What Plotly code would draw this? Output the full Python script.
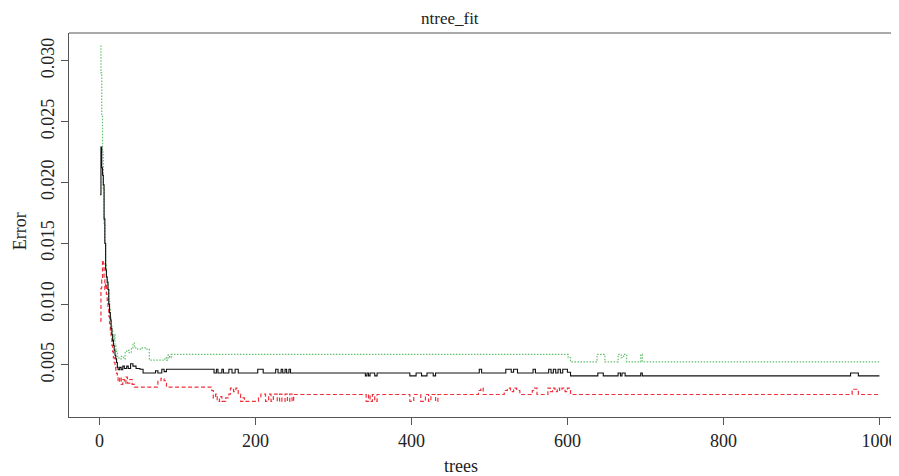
import plotly.graph_objects as go

# ---- data: change points (tree, error) ----
oob_trees = [1,2,3,4,5,6,7,8,9,10,11,12,13,14,15,16,17,18,19,20,21,22,23,24,26,28,30,32,35,37,40,43,47,52,56,72,75,80,83,86,
             147,150,152,157,159,166,170,174,178,203,210,226,229,233,235,238,240,243,245,
             341,343,345,347,353,356,398,406,413,420,428,431,487,490,521,528,531,536,556,559,
             576,579,582,585,588,591,594,600,604,639,646,665,668,670,674,694,696,963,973,1000]
oob_err = [0.0190,0.0229,0.0212,0.0206,0.0198,0.0170,0.0150,0.0128,0.0122,0.0118,0.0112,0.0100,0.0093,0.0087,0.0080,
           0.0075,0.0070,0.0066,0.0062,0.0058,0.0055,0.0052,0.0048,0.0046,0.0048,0.0046,0.0049,0.0047,0.0049,0.0047,
           0.0051,0.0049,0.0047,0.00465,0.00434,0.00452,0.00434,0.00465,0.00445,0.00465,
           0.00434,0.00465,0.00434,0.00465,0.00434,0.00465,0.00434,0.00465,0.00434,0.00465,0.00434,0.00465,0.00434,
           0.00465,0.00434,0.00465,0.00434,0.00465,0.00434,
           0.0041,0.00434,0.0041,0.00434,0.0041,0.00434,0.0041,0.00434,0.0041,0.00434,0.0041,0.00434,0.00465,0.00434,
           0.00465,0.0044,0.00465,0.00434,0.00465,0.00434,
           0.00465,0.00434,0.00465,0.00434,0.00465,0.00434,0.00465,0.0044,0.0041,0.00434,0.0041,0.00434,0.0041,
           0.00434,0.0041,0.00434,0.0041,0.00434,0.0041,0.0041]

red_trees = [1,2,3,4,5,6,7,8,9,10,11,12,13,14,15,16,17,18,19,20,21,22,23,24,26,28,30,32,34,36,39,42,45,75,79,83,86,
             144,146,149,151,154,157,162,166,168,172,175,178,181,184,186,204,207,213,217,220,223,228,231,234,238,241,244,247,249,
             342,345,347,350,353,356,398,403,412,418,422,425,431,434,486,489,492,519,523,527,531,535,539,555,558,561,
             575,578,581,584,587,590,593,597,600,604,965,973,1000]
red_err = [0.0086,0.0113,0.0120,0.0136,0.0133,0.0120,0.0112,0.0117,0.0108,0.0103,0.0097,0.0090,0.0084,0.0078,0.0072,
           0.0066,0.0061,0.0056,0.0052,0.0048,0.0045,0.0043,0.0040,0.0036,0.0040,0.0034,0.0038,0.0035,0.0040,0.0035,
           0.0038,0.0034,0.00317,0.0037,0.0039,0.0037,0.00317,
           0.0029,0.0023,0.0026,0.0020,0.0024,0.0020,0.0023,0.0026,0.0031,0.0028,0.0031,0.0026,0.0020,0.0023,0.0020,
           0.0023,0.0026,0.0020,0.0026,0.0020,0.0026,0.0020,0.0026,0.0020,0.0026,0.0020,0.0026,0.0020,0.00257,
           0.0020,0.00257,0.0020,0.00257,0.0020,0.00257,0.0020,0.00257,0.0020,0.00257,0.0020,0.00257,0.0020,0.00257,
           0.0029,0.0031,0.00257,0.0029,0.0031,0.0028,0.0031,0.0029,0.00257,0.0029,0.0031,0.00257,
           0.0031,0.0028,0.0031,0.0028,0.0031,0.0029,0.0031,0.0028,0.0031,0.00257,0.0030,0.00257,0.00257]

green_trees = [1,2,3,4,5,6,7,8,9,10,11,12,13,14,15,16,17,18,19,20,21,22,23,25,28,31,33,35,38,41,43,45,49,55,60,64,84,86,88,90,92,
               601,604,638,648,665,669,672,676,694,696,1000]
green_err = [0.0312,0.0290,0.0255,0.0225,0.0195,0.0165,0.0150,0.0132,0.0123,0.0118,0.0112,0.0104,0.0097,0.0090,0.0082,
             0.0078,0.0072,0.0070,0.0075,0.0066,0.0063,0.0060,0.0057,0.0055,0.0057,0.0055,0.0060,0.0062,0.0060,0.0064,
             0.0068,0.0064,0.0063,0.0064,0.0063,0.0054,0.0056,0.0054,0.0058,0.0056,0.00586,
             0.0056,0.00525,0.00586,0.00525,0.00586,0.0056,0.00586,0.00525,0.00586,0.00525,0.00525]

x_ticks = [0, 200, 400, 600, 800, 1000]
y_ticks = [0.005, 0.010, 0.015, 0.020, 0.025, 0.030]
y_tick_labels = ["0.005", "0.010", "0.015", "0.020", "0.025", "0.030"]

FONT = "Liberation Serif"
AX = "#555555"
TXT = "#222222"

fig = go.Figure()
fig.add_trace(go.Scatter(x=green_trees, y=green_err, mode="lines", line_shape="hv",
                         line=dict(color="#62c06c", width=1.2, dash="1.5px,1.5px"), name="green"))
fig.add_trace(go.Scatter(x=red_trees, y=red_err, mode="lines", line_shape="hv",
                         line=dict(color="#f0303a", width=1.2, dash="4px,2.5px"), name="red"))
fig.add_trace(go.Scatter(x=oob_trees, y=oob_err, mode="lines", line_shape="hv",
                         line=dict(color="#111111", width=1.1), name="OOB"))

# page body adds an 8px offset; margins compensate so the plot box lands at x 69..899, y 33..417
fig.update_layout(
    width=899, height=476,
    margin=dict(l=61, r=8, t=25, b=67, autoexpand=False),
    paper_bgcolor="white", plot_bgcolor="white",
    showlegend=False,
    font=dict(family=FONT, size=17, color=TXT),
)
fig.update_xaxes(range=[-38.96, 1025.1], tickmode="array", tickvals=x_ticks,
                 ticktext=[str(v) for v in x_ticks], automargin=False,
                 showgrid=False, zeroline=False, showline=True, linecolor=AX, linewidth=1,
                 ticks="outside", ticklen=7, tickcolor=AX, tickwidth=1,
                 tickfont=dict(family=FONT, size=18, color=TXT))
fig.update_yaxes(range=[0.00072, 0.03228], tickmode="array", tickvals=y_ticks, ticktext=y_tick_labels,
                 tickangle=-90, automargin=False,
                 showgrid=False, zeroline=False, showline=True, linecolor=AX, linewidth=1,
                 ticks="outside", ticklen=7, tickcolor=AX, tickwidth=1,
                 tickfont=dict(family=FONT, size=18, color=TXT))
fig.add_shape(type="line", xref="paper", yref="paper", x0=0, x1=1, y0=1, y1=1,
              line=dict(color=AX, width=1))

fig.add_annotation(text="ntree_fit", xref="paper", yref="paper", x=(450 - 69) / 830, y=1,
                   xanchor="center", yanchor="middle",
                   yshift=15, showarrow=False, font=dict(family=FONT, size=17, color=TXT))
fig.add_annotation(text="trees", xref="paper", yref="paper", x=(461 - 69) / 830, y=0,
                   xanchor="center", yanchor="middle",
                   yshift=-49, showarrow=False, font=dict(family=FONT, size=18, color=TXT))
fig.add_annotation(text="Error", xref="paper", yref="paper", x=0, xshift=-49, y=(416.7 - 231) / 383.7,
                   xanchor="center", yanchor="middle",
                   textangle=-90, showarrow=False, font=dict(family=FONT, size=18, color=TXT))

fig.write_html("out.html")
